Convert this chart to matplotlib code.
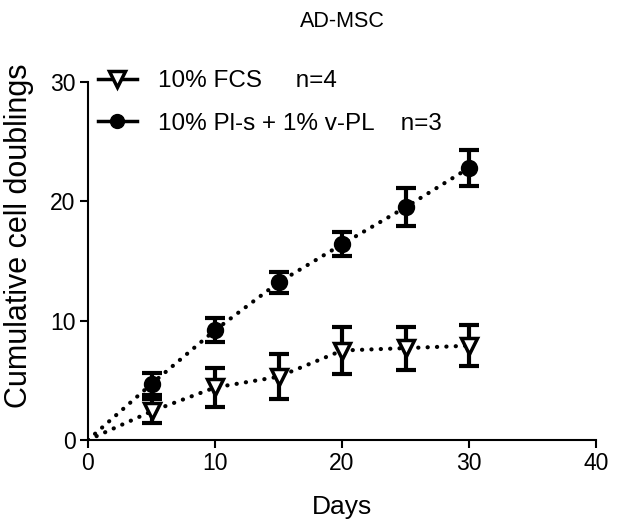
import matplotlib
matplotlib.use("Agg")
import matplotlib.pyplot as plt
from matplotlib.lines import Line2D

plt.rcParams['font.family'] = ['Liberation Sans', 'DejaVu Sans']

days = [0, 5, 10, 15, 20, 25, 30]
fcs_mean = [0, 2.4, 4.4, 5.3, 7.5, 7.7, 7.9]
fcs_err = [0, 1.0, 1.6, 1.9, 2.0, 1.8, 1.7]
pl_mean = [0, 4.7, 9.2, 13.2, 16.4, 19.5, 22.8]
pl_err = [0, 0.9, 1.0, 0.9, 1.0, 1.6, 1.5]
labels = ["10% FCS     n=4", "10% Pl-s + 1% v-PL    n=3"]

W, H = 641, 528
fig = plt.figure(figsize=(W / 100, H / 100), dpi=100)
ax = fig.add_axes([88 / W, 1 - 440 / H, (596 - 88) / W, (440 - 82) / H])

dot = (0, (0.05, 2.2))
for mean, err, mk, fc, ms in [(fcs_mean, fcs_err, 'v', 'white', 12), (pl_mean, pl_err, 'o', 'black', 10)]:
    ax.plot(days, mean, color='black', linestyle=dot, lw=3, dash_capstyle='round', zorder=2)
    ax.errorbar(days[1:], mean[1:], yerr=err[1:], fmt='none', ecolor='black',
                elinewidth=3, capsize=7, capthick=3, zorder=3)
    ax.plot(days[1:], mean[1:], linestyle='none', marker=mk, markersize=ms,
            markerfacecolor=fc, markeredgecolor='black', markeredgewidth=2.5, zorder=4)

ax.set_xlim(0, 40)
ax.set_ylim(0, 30)
ax.set_xticks([0, 10, 20, 30, 40])
ax.set_yticks([0, 10, 20, 30])
for s in ['top', 'right']:
    ax.spines[s].set_visible(False)
for s in ['left', 'bottom']:
    ax.spines[s].set_linewidth(1.5)
ax.tick_params(direction='out', length=6, width=1.5, labelsize=16.5, pad=3)
ax.set_xlabel('Days', fontsize=19, labelpad=14)
ax.set_ylabel('Cumulative cell doublings', fontsize=22)
ax.yaxis.set_label_coords(-0.106, 0.57)
fig.text(342 / W, 1 - 27 / H, 'AD-MSC', fontsize=15.5, ha='center', va='baseline')

handles = [
    Line2D([], [], color='black', lw=2.5, marker='v', markersize=11, markerfacecolor='white',
           markeredgecolor='black', markeredgewidth=2.5),
    Line2D([], [], color='black', lw=2.5, marker='o', markersize=10, markerfacecolor='black'),
]
ax.legend(handles, labels, loc='upper left', bbox_to_anchor=(0.0, 1.06), frameon=False,
          borderaxespad=0, fontsize=17.5, handlelength=1.6, labelspacing=0.85,
          handletextpad=0.9)

fig.savefig('out.png', dpi=100)
